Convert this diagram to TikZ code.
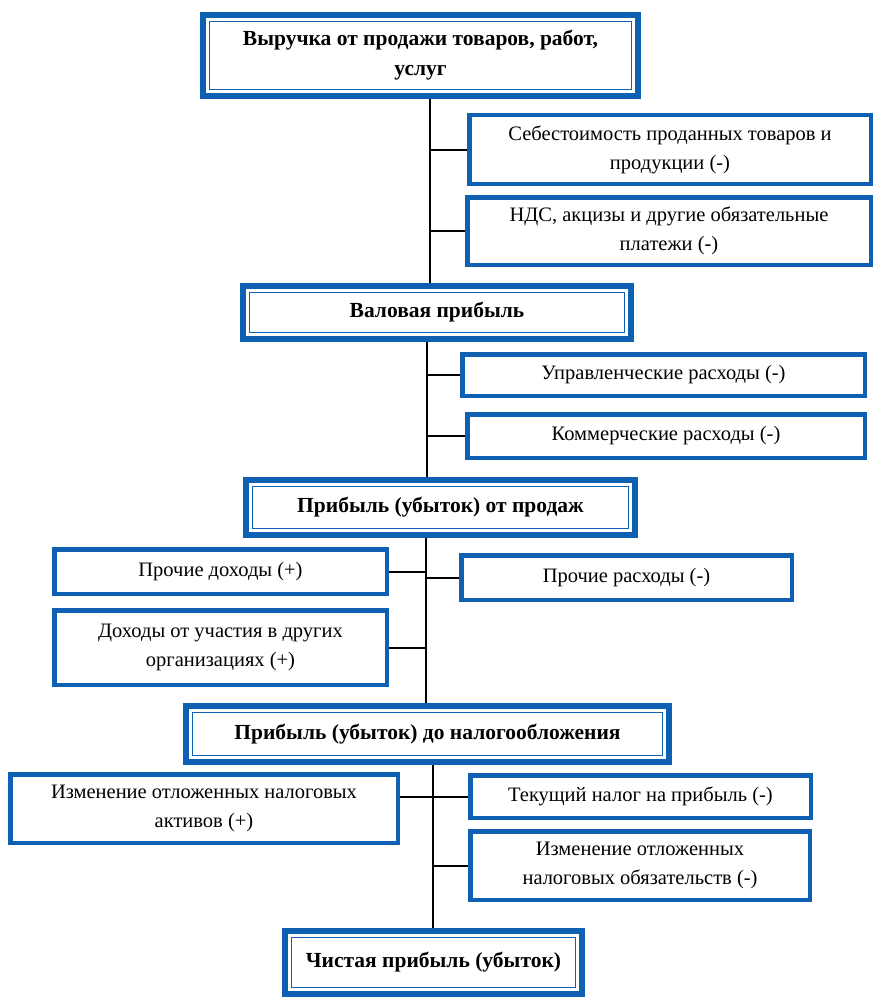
\documentclass[tikz,border=0pt]{standalone}
\usepackage{fontspec}
\setmainfont{Liberation Serif}
\usepackage{tikz}
\usetikzlibrary{shadows,backgrounds}
\definecolor{boxblue}{RGB}{14,96,178}

\tikzset{
  box/.style={draw=boxblue, fill=white, line width=4.5pt, inner sep=0pt, align=center,
    font=\fontsize{20.5}{29}\selectfont,
    drop shadow={shadow xshift=1.5pt, shadow yshift=-2.5pt, opacity=.3}},
  mainbox/.style={box, line width=6pt, font=\fontsize{21.5}{30}\selectfont\bfseries,
    path picture={\draw[boxblue, line width=1.5pt]
      ([xshift=6.5pt,yshift=-6.5pt]path picture bounding box.north west) rectangle
      ([xshift=-6.5pt,yshift=6.5pt]path picture bounding box.south east);}},
  link/.style={draw=black, line width=2pt}
}

\begin{document}
\begin{tikzpicture}[x=1pt,y=-1pt]
\useasboundingbox (0,0) rectangle (882,1006);

% main chain
\node[mainbox, minimum width=435, minimum height=81] (rev)    at (420.5,55.5) {Выручка от продажи товаров, работ,\\услуг};
\node[mainbox, minimum width=388, minimum height=53] (gross)  at (437,312.5)  {Валовая прибыль};
\node[mainbox, minimum width=389, minimum height=55] (sales)  at (440.5,507.5) {Прибыль (убыток) от продаж};
\node[mainbox, minimum width=483, minimum height=56] (pretax) at (427.5,734)  {Прибыль (убыток) до налогообложения};
\node[mainbox, minimum width=297, minimum height=63] (net)    at (433.5,962.5) {Чистая прибыль (убыток)};

% side items
\node[box, minimum width=401.5, minimum height=68.5] (cost)   at (670,149.5)   {Себестоимость проданных товаров и\\продукции (-)};
\node[box, minimum width=403.5, minimum height=67.5] (vat)    at (669,231)     {НДС, акцизы и другие обязательные\\платежи (-)};
\node[box, minimum width=402.5, minimum height=41.5] (admin)  at (663.5,375)   {Управленческие расходы (-)};
\node[box, minimum width=397.5, minimum height=43.5] (comm)   at (666,436)     {Коммерческие расходы (-)};
\node[box, minimum width=332.5, minimum height=44.5] (othinc) at (220.5,571.5)  {Прочие доходы (+)};
\node[box, minimum width=330.5, minimum height=44.5] (othexp) at (626.5,577.5)  {Прочие расходы (-)};
\node[box, minimum width=332.5, minimum height=74.5] (partic) at (220.5,647.5)  {Доходы от участия в других\\организациях (+)};
\node[box, minimum width=387.5, minimum height=68.5] (asset)  at (204,808.5)    {Изменение отложенных налоговых\\активов (+)};
\node[box, minimum width=340.5, minimum height=42.5] (curtax) at (640.5,796.5)  {Текущий налог на прибыль (-)};
\node[box, minimum width=339.5, minimum height=68.5] (liab)   at (640,865.5)    {Изменение отложенных\\налоговых обязательств (-)};

\coordinate (t1) at (430,0);
\coordinate (t2) at (427,0);
\coordinate (t3) at (426,0);
\coordinate (t4) at (433,0);

\begin{scope}[on background layer]
  \draw[link] (rev.south -| t1) -- (gross.north -| t1);
  \draw[link] (cost.west) -- (cost.west -| t1);
  \draw[link] (vat.west) -- (vat.west -| t1);

  \draw[link] (gross.south -| t2) -- (sales.north -| t2);
  \draw[link] (admin.west) -- (admin.west -| t2);
  \draw[link] (comm.west) -- (comm.west -| t2);

  \draw[link] (sales.south -| t3) -- (pretax.north -| t3);
  \draw[link] (othinc.east) -- (othinc.east -| t3);
  \draw[link] (othexp.west) -- (othexp.west -| t3);
  \draw[link] (partic.east) -- (partic.east -| t3);

  \draw[link] (pretax.south -| t4) -- (net.north -| t4);
  \draw[link] (curtax.west) -- (curtax.west -| asset.east);
  \draw[link] (liab.west) -- (liab.west -| t4);
\end{scope}
\end{tikzpicture}
\end{document}
